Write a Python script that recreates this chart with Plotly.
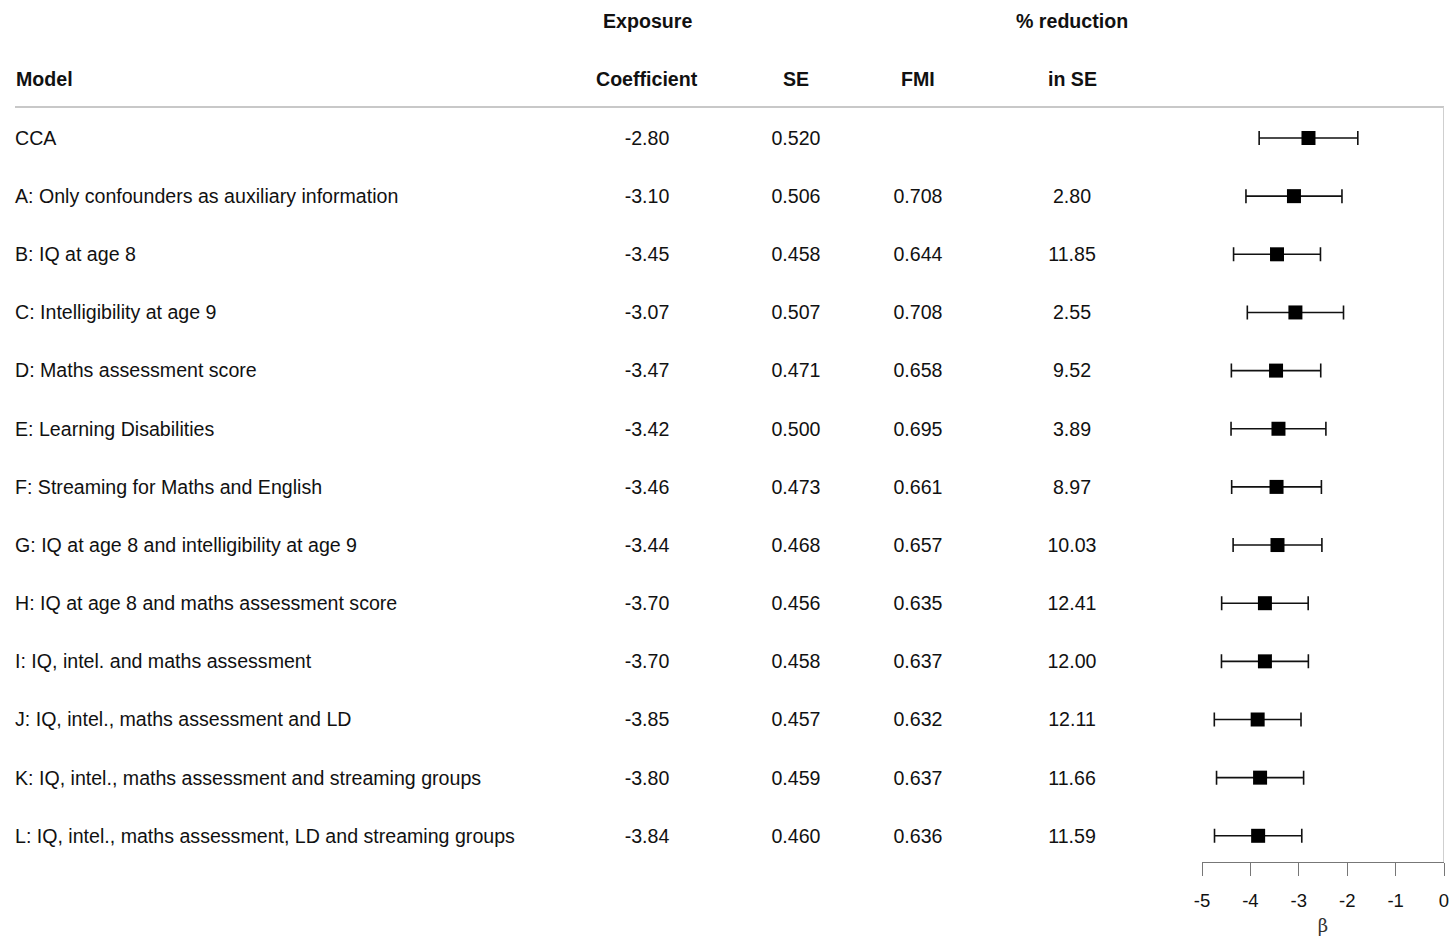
import plotly.graph_objects as go

# Model results: coefficient, standard error, fraction of missing information,
# and percentage reduction in SE relative to the complete-case analysis
models = [
    "CCA",
    "A: Only confounders as auxiliary information",
    "B: IQ at age 8",
    "C: Intelligibility at age 9",
    "D: Maths assessment score",
    "E: Learning Disabilities",
    "F: Streaming for Maths and English",
    "G: IQ at age 8 and intelligibility at age 9",
    "H: IQ at age 8 and maths assessment score",
    "I: IQ, intel. and maths assessment",
    "J: IQ, intel., maths assessment and LD",
    "K: IQ, intel., maths assessment and streaming groups",
    "L: IQ, intel., maths assessment, LD and streaming groups",
]
coef = [-2.80, -3.10, -3.45, -3.07, -3.47, -3.42, -3.46, -3.44, -3.70, -3.70, -3.85, -3.80, -3.84]
se = [0.520, 0.506, 0.458, 0.507, 0.471, 0.500, 0.473, 0.468, 0.456, 0.458, 0.457, 0.459, 0.460]
fmi = [None, 0.708, 0.644, 0.708, 0.658, 0.695, 0.661, 0.657, 0.635, 0.637, 0.632, 0.637, 0.636]
pct_reduction = [None, 2.80, 11.85, 2.55, 9.52, 3.89, 8.97, 10.03, 12.41, 12.00, 12.11, 11.66, 11.59]
beta_ticks = [-5, -4, -3, -2, -1, 0]

W, H = 1451, 936
FONT = "Liberation Sans, Arial, sans-serif"
FS = 19.6

rows = list(range(len(models)))
ci_half = [1.96 * s for s in se]

# layout geometry (pixels)
row0_px, row_step = 138, 58.15
y_top = -row0_px / row_step
y_bot = (H - row0_px) / row_step
def px_to_row(p):
    return (p - row0_px) / row_step

# text baseline nudge so glyphs sit centred on each row
text_nudge = 2 / row_step
text_rows = [r + text_nudge for r in rows]

x_left_px, x_right_px = 1202, 1444
axis_px = 862

col_coef, col_se, col_fmi, col_red = 647, 796, 918, 1072
label_x = 15

fig = go.Figure()

# forest plot: point estimates with 95% confidence intervals
fig.add_trace(go.Scatter(
    x=coef, y=rows, mode="markers",
    marker=dict(symbol="square", size=14, color="black"),
    error_x=dict(type="data", array=ci_half, symmetric=True,
                 color="#111111", thickness=1.6, width=7),
    xaxis="x", yaxis="y", showlegend=False, hoverinfo="skip",
))

def text_col(xpx, texts, pos="middle center"):
    fig.add_trace(go.Scatter(
        x=[xpx] * len(texts), y=text_rows[:len(texts)], mode="text",
        text=texts, textposition=pos,
        textfont=dict(family=FONT, size=FS, color="#111111"),
        xaxis="x2", yaxis="y", showlegend=False, hoverinfo="skip",
        cliponaxis=False,
    ))

text_col(label_x, models, pos="middle right")
text_col(col_coef, [f"{c:.2f}" for c in coef])
text_col(col_se, [f"{s:.3f}" for s in se])
text_col(col_fmi, ["" if f is None else f"{f:.3f}" for f in fmi])
text_col(col_red, ["" if r is None else f"{r:.2f}" for r in pct_reduction])

# column headers
headers = [
    (label_x, 79, "Model", "left"),
    (col_coef, 21, "Exposure", "center"),
    (col_coef, 79, "Coefficient", "center"),
    (col_se, 79, "SE", "center"),
    (col_fmi, 79, "FMI", "center"),
    (col_red, 21, "% reduction", "center"),
    (col_red, 79, "in SE", "center"),
]
for hx, hy, ht, ha in headers:
    fig.add_annotation(x=hx, y=px_to_row(hy), xref="x2", yref="y",
                       text=f"<b>{ht}</b>", showarrow=False, xanchor=ha,
                       borderpad=0,
                       font=dict(family=FONT, size=FS, color="#111111"))

# header rule and reference line at zero
fig.add_shape(type="line", xref="x2", yref="y",
              x0=label_x, x1=x_right_px, y0=px_to_row(107), y1=px_to_row(107),
              line=dict(color="#c8c8c8", width=2))
fig.add_shape(type="line", xref="x", yref="y",
              x0=0, x1=0, y0=px_to_row(107), y1=px_to_row(axis_px),
              line=dict(color="#cfcfcf", width=2))

fig.update_layout(
    width=W, height=H,
    margin=dict(l=0, r=0, t=0, b=0, pad=0, autoexpand=False),
    paper_bgcolor="white", plot_bgcolor="rgba(0,0,0,0)",
    xaxis=dict(
        domain=[x_left_px / W, x_right_px / W], range=[-5, 0],
        anchor="free", position=(H - axis_px) / H, automargin=False,
        tickvals=beta_ticks, ticktext=[str(t) for t in beta_ticks],
        showline=True, linecolor="#777777", linewidth=1.3,
        ticks="outside", ticklen=13, tickcolor="#777777", tickwidth=1.3,
        ticklabelstandoff=9,
        showgrid=False, zeroline=False,
        tickfont=dict(family=FONT, size=18.5, color="#111111"),
        title=dict(text="β", font=dict(family="DejaVu Serif, serif", size=18, color="#333333"),
                   standoff=9),
    ),
    xaxis2=dict(domain=[0, 1], range=[0, W], visible=False, anchor="y", automargin=False),
    yaxis=dict(domain=[0, 1], range=[y_bot, y_top], visible=False, automargin=False),
)

fig.write_html("out.html")
